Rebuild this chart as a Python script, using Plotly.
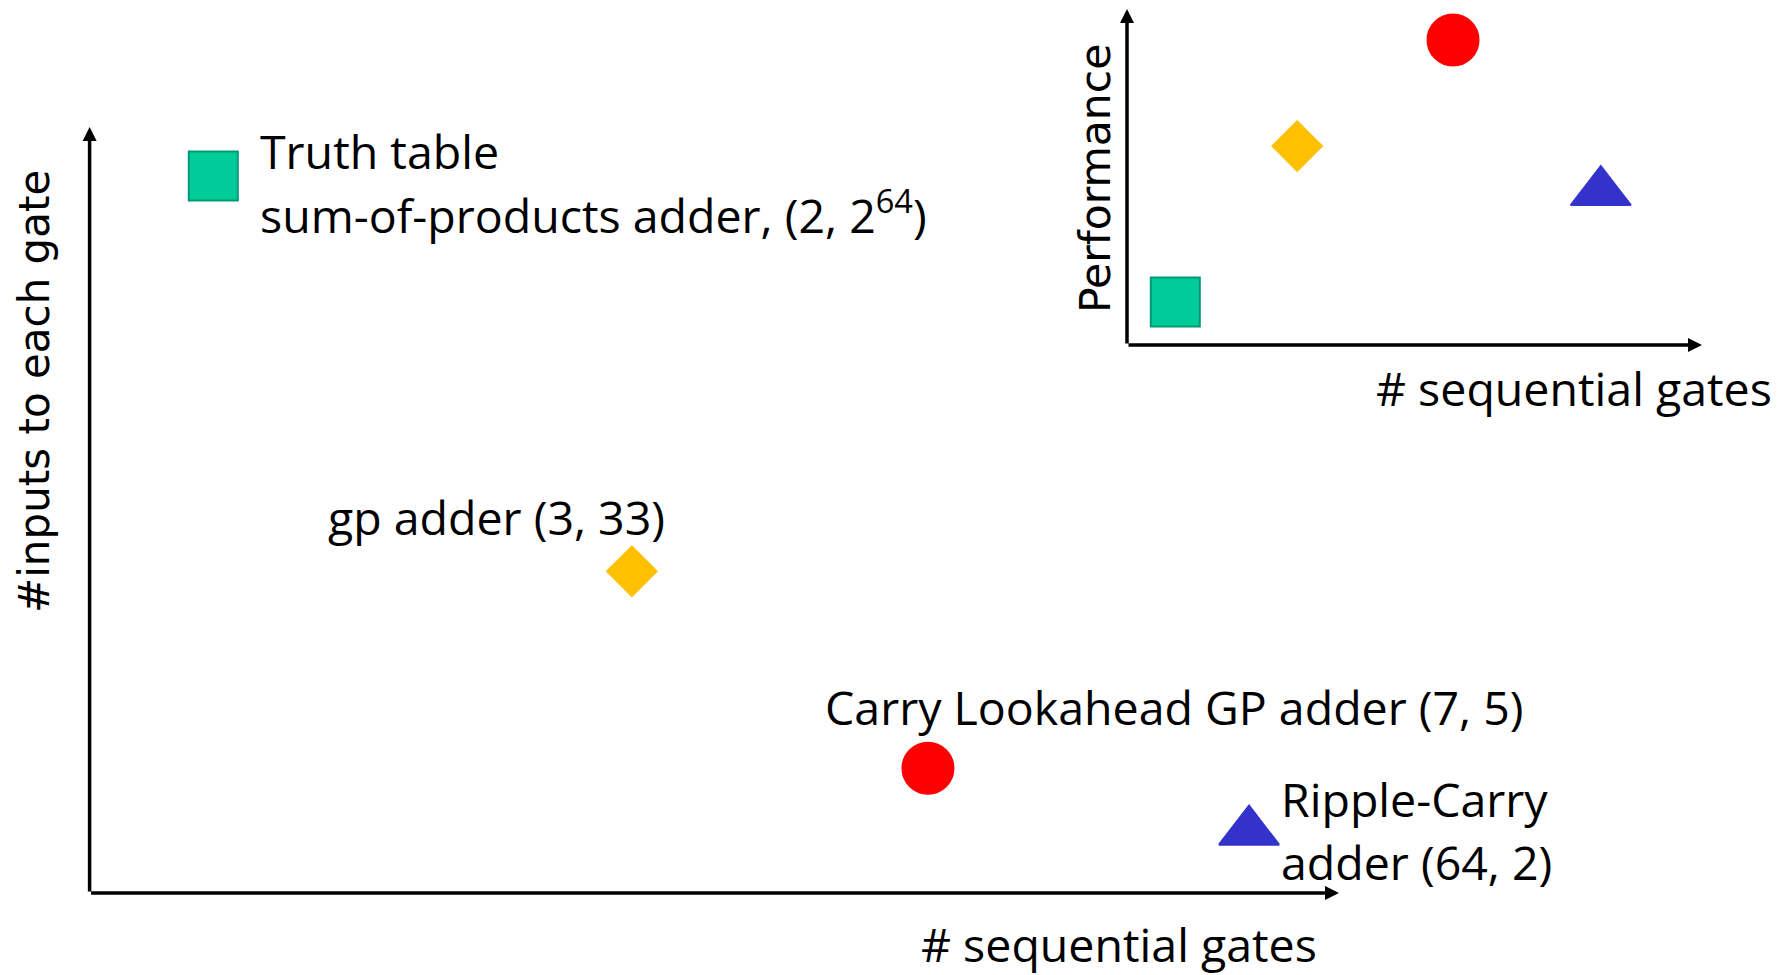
import plotly.graph_objects as go

# ---- data (conceptual positions, 0-100 scale) ----
adders = ["Truth table sum-of-products adder", "gp adder",
          "Carry Lookahead GP adder", "Ripple-Carry adder"]
seq_gates = ["2", "3", "7", "64"]
gate_inputs = ["2<sup>64</sup>", "33", "5", "2"]
main_x = [9.9, 43.4, 67.1, 92.8]
main_y = [93.6, 42.0, 16.3, 8.0]
perf_x = [8.4, 29.6, 56.7, 82.4]
perf_y = [12.8, 59.2, 90.8, 45.5]

symbols = ["square", "diamond", "circle", "triangle-up"]
fills = ["#00CC99", "#FFC000", "#FF0000", "#3333CC"]
edges = ["#009977", "#FFC000", "#FF0000", "#3333CC"]
sizes = [49, 38, 51, 52]

W, H = 1779, 975
OFF = 8  # default page margin of the html body
FW, FH = W - OFF, H - OFF
TXT = "Open Sans"
AX = "DejaVu Sans"

fig = go.Figure()
for i in range(4):
    fig.add_trace(go.Scatter(x=[main_x[i]], y=[main_y[i]], mode="markers",
                             xaxis="x", yaxis="y", showlegend=False, hoverinfo="skip",
                             marker=dict(symbol=symbols[i], size=sizes[i], color=fills[i],
                                         line=dict(color=edges[i], width=2))))
    fig.add_trace(go.Scatter(x=[perf_x[i]], y=[perf_y[i]], mode="markers",
                             xaxis="x2", yaxis="y2", showlegend=False, hoverinfo="skip",
                             marker=dict(symbol=symbols[i], size=sizes[i], color=fills[i],
                                         line=dict(color=edges[i], width=2))))

def px(x):
    return (x - OFF) / FW

def py(y):
    return 1 - (y - OFF) / FH

ax_common = dict(visible=False, range=[0, 100], showgrid=False, zeroline=False, fixedrange=True)
fig.update_layout(
    width=FW, height=FH, margin=dict(l=0, r=0, t=0, b=0),
    paper_bgcolor="white", plot_bgcolor="rgba(0,0,0,0)",
    xaxis=dict(domain=[px(89.6), px(1339)], **ax_common),
    yaxis=dict(domain=[py(893), py(127)], **ax_common),
    xaxis2=dict(domain=[px(1127), px(1702)], anchor="y2", **ax_common),
    yaxis2=dict(domain=[py(345), py(9)], anchor="x2", **ax_common),
)

anns = []
# axis arrows
for xr, yr in (("x", "y"), ("x2", "y2")):
    anns.append(dict(x=100, y=0, ax=0, ay=0, xref=xr, yref=yr, axref=xr, ayref=yr,
                     showarrow=True, arrowhead=2, arrowsize=0.8, arrowwidth=3.5,
                     arrowcolor="black", text="", standoff=0, startstandoff=0))
    anns.append(dict(x=0, y=100, ax=0, ay=0, xref=xr, yref=yr, axref=xr, ayref=yr,
                     showarrow=True, arrowhead=2, arrowsize=0.8, arrowwidth=3.5,
                     arrowcolor="black", text="", standoff=0, startstandoff=0))

def label(text, x, y, size=46.5, font=TXT, xanchor="left", angle=0):
    anns.append(dict(text=text, x=px(x), y=py(y), xref="paper", yref="paper",
                     xanchor=xanchor, yanchor="middle", showarrow=False, textangle=angle,
                     font=dict(family=font, size=size, color="black")))

# point labels
label("Truth table", 258, 151)
label(f"sum-of-products adder, ({seq_gates[0]}, {gate_inputs[0]})", 258, 212)
label(f"gp adder ({seq_gates[1]}, {gate_inputs[1]})", 326, 517)
label(f"Carry Lookahead GP adder ({seq_gates[2]}, {gate_inputs[2]})", 823, 707)
label("Ripple-Carry", 1279, 799)
label(f"adder ({seq_gates[3]}, {gate_inputs[3]})", 1279, 862)

# axis titles
label("# sequential gates", 1119, 944, xanchor="center")
label("# sequential gates", 1574, 388, xanchor="center")
label("#inputs to each gate", 34, 392, size=42, font=AX, xanchor="center", angle=-90)
label("Performance", 1095, 179, size=42.5, font=AX, xanchor="center", angle=-90)

fig.update_layout(annotations=anns)
fig.write_html("out.html")
